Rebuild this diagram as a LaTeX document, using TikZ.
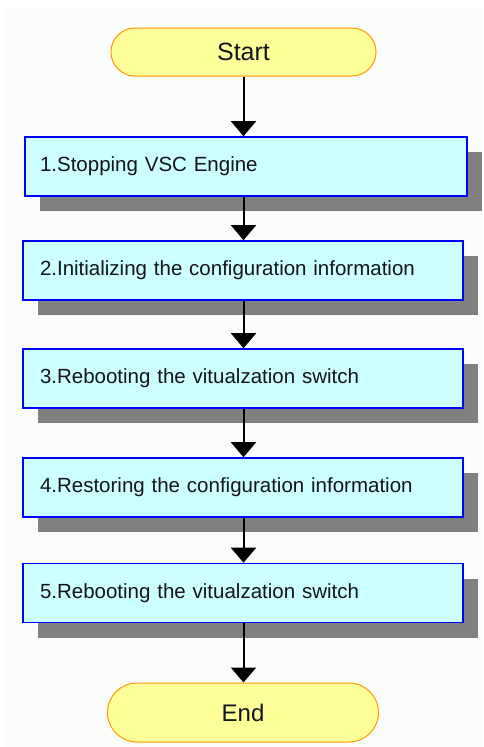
\documentclass[tikz,border=0pt]{standalone}
\usepackage{fontspec}
\setmainfont{Liberation Sans}
\usetikzlibrary{arrows.meta,shapes.misc,shadows}
\definecolor{bgc}{RGB}{250,252,250}
\definecolor{boxfill}{RGB}{204,255,255}
\definecolor{boxline}{RGB}{0,0,255}
\definecolor{shade}{RGB}{128,128,128}
\definecolor{termfill}{RGB}{255,255,153}
\definecolor{termline}{RGB}{255,153,0}
\definecolor{txt}{RGB}{20,20,30}
\tikzset{
  stepbox/.style={rectangle, draw=boxline, line width=1.6pt, fill=boxfill,
    minimum height=59pt, text width=#1, align=left, inner xsep=15pt, inner ysep=0pt,
    text=txt, font=\fontsize{20.5}{24}\selectfont,
    general shadow={shadow xshift=15pt, shadow yshift=-15pt, fill=shade, draw=none}},
  term/.style={rounded rectangle, rounded rectangle arc length=180, draw=termline,
    line width=1pt, fill=termfill, inner sep=0pt, text=txt},
  flow/.style={line width=2pt, -{Triangle[width=25pt,length=15pt]}}
}
\begin{document}
\begin{tikzpicture}[x=1pt,y=-1pt]
\useasboundingbox (0,0) rectangle (483,747);
\fill[bgc] (4,8) rectangle (483,747);
\node[term, minimum width=265pt, minimum height=48pt, font=\fontsize{25}{28}\selectfont] (start) at (243.5,52) {Start};
\node[stepbox=412pt, inner xsep=15pt] (s1) at (246,166.5) {1.Stopping VSC Engine};
\node[stepbox=406pt, inner xsep=17pt] (s2) at (243,270.5) {2.Initializing the configuration information};
\node[stepbox=406pt, inner xsep=17pt] (s3) at (243,378.5) {3.Rebooting the vitualzation switch};
\node[stepbox=406pt, inner xsep=17pt] (s4) at (243,487.5) {4.Restoring the configuration information};
\node[stepbox=406pt, inner xsep=17pt] (s5) at (243,593) {5.Rebooting the vitualzation switch};
\node[term, minimum width=271pt, minimum height=59pt, font=\fontsize{24}{27}\selectfont] (end) at (243,712.5) {End};
\draw[flow] (start.south) -- (start.south |- s1.north);
\draw[flow] (s1.south -| start.south) -- (start.south |- s2.north);
\draw[flow] (s2.south -| start.south) -- (start.south |- s3.north);
\draw[flow] (s3.south -| start.south) -- (start.south |- s4.north);
\draw[flow] (s4.south -| start.south) -- (start.south |- s5.north);
\draw[flow] (s5.south -| start.south) -- (start.south |- end.north);
\end{tikzpicture}
\end{document}
